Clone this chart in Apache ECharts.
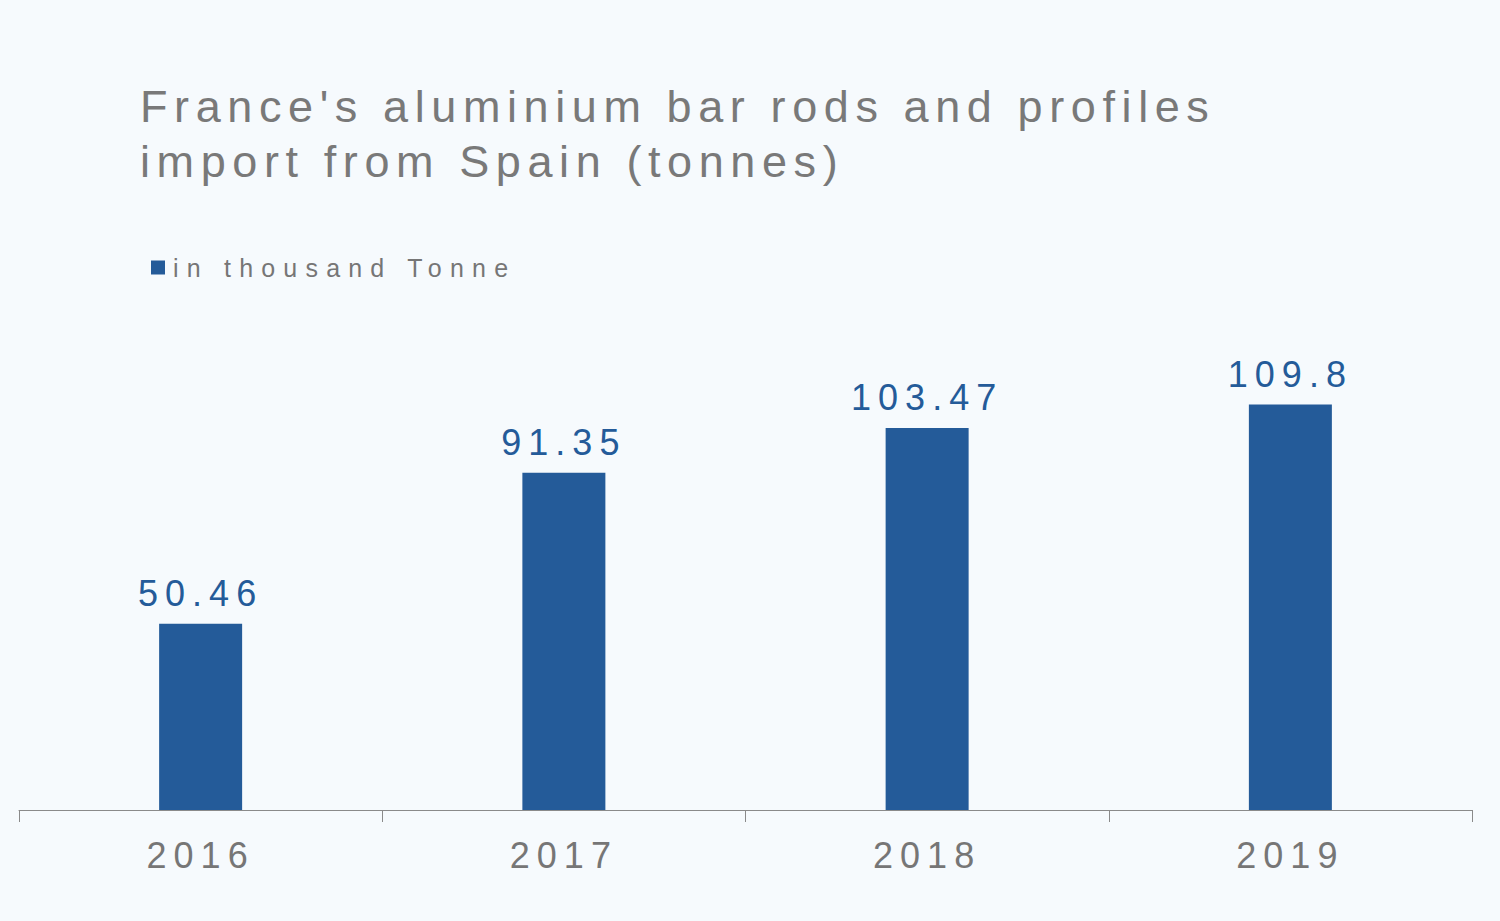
<!DOCTYPE html>
<html>
<head>
<meta charset="utf-8">
<script src="https://cdn.jsdelivr.net/npm/echarts@6/dist/echarts.min.js"></script>
<style>
  html, body { margin: 0; padding: 0; background: #F6FAFD; }
  #chart { width: 1500px; height: 921px; }
  #chart text[style*="45px"] { letter-spacing: 6.6px; }
  #chart text[style*="36px"] { letter-spacing: 7px; }
  #chart text[style*="25px"] { letter-spacing: 8.2px; }
</style>
</head>
<body>
<div id="chart"></div>
<script>
const titleText = "France's aluminium bar rods and profiles\nimport from Spain (tonnes)";
const seriesName = "in thousand Tonne";
const categories = ["2016", "2017", "2018", "2019"];
const values = [50.46, 91.35, 103.47, 109.8];

const chart = echarts.init(document.getElementById('chart'), null, { renderer: 'svg' });
chart.setOption({
  backgroundColor: '#F6FAFD',
  animation: false,
  title: {
    text: titleText,
    left: 135,
    top: 74,
    textStyle: {
      fontFamily: 'Liberation Sans, Arial, sans-serif',
      fontSize: 45,
      fontWeight: 'normal',
      color: '#797979',
      lineHeight: 55
    }
  },
  legend: {
    left: 151,
    top: 255,
    padding: 0,
    icon: 'rect',
    itemWidth: 14,
    itemHeight: 14,
    data: [seriesName],
    textStyle: {
      fontFamily: 'Liberation Sans, Arial, sans-serif',
      fontSize: 25,
      color: '#767676',
      padding: [0, 0, 0, 3]
    }
  },
  grid: {
    left: 19,
    right: 28,
    top: 293,
    bottom: 111,
    containLabel: false
  },
  xAxis: {
    type: 'category',
    data: categories,
    axisLine: { lineStyle: { color: '#8A8A8A', width: 1 } },
    axisTick: { show: true, length: 12, lineStyle: { color: '#8A8A8A' } },
    axisLabel: {
      margin: 27,
      fontFamily: 'Liberation Sans, Arial, sans-serif',
      fontSize: 36,
      color: '#767676'
    }
  },
  yAxis: {
    type: 'value',
    min: 0,
    max: 140,
    show: false,
    splitLine: { show: false }
  },
  series: [{
    name: seriesName,
    type: 'bar',
    data: values,
    barWidth: 83,
    itemStyle: { color: '#245B99' },
    label: {
      show: true,
      position: 'top',
      distance: 12,
      fontFamily: 'Liberation Sans, Arial, sans-serif',
      fontSize: 36,
      color: '#245B99'
    }
  }]
});
</script>
</body>
</html>
